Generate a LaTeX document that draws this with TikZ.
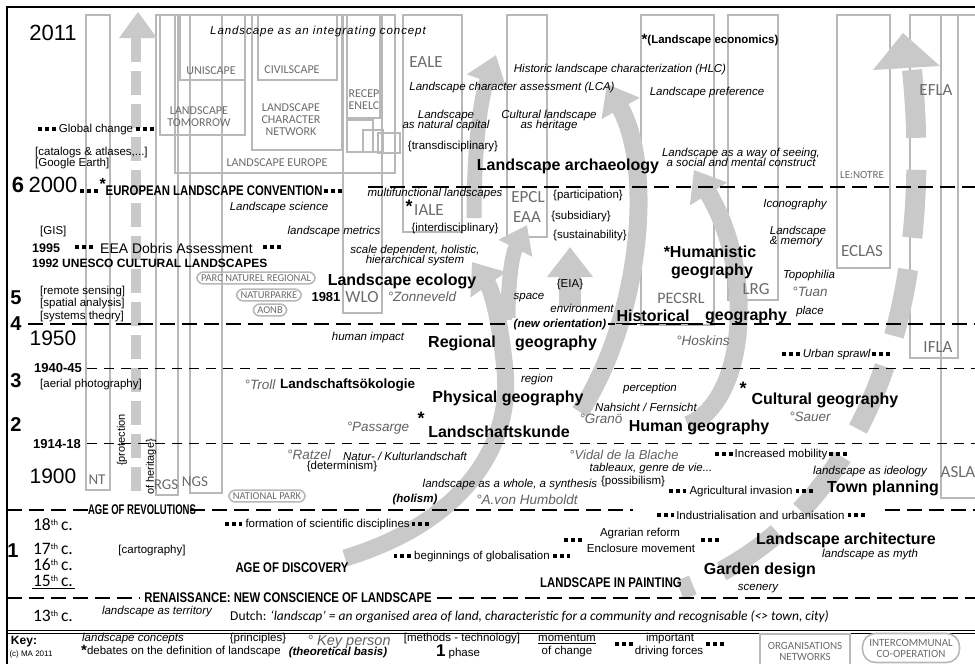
\documentclass[tikz,border=0pt]{standalone}
\usepackage{graphicx}
\usepackage{fontspec}
\setmainfont{Liberation Sans}
\newfontfamily\carl{Carlito}
\usetikzlibrary{arrows.meta}
\definecolor{bgray}{gray}{0.72}
\definecolor{agray}{gray}{0.79}
\definecolor{ogray}{gray}{0.42}
\definecolor{pgray}{gray}{0.38}
\newcommand{\fs}[1]{\fontsize{#1}{#1}\selectfont}
\newcommand{\sqs}{\rule[0.18em]{3.8pt}{3.8pt}\hspace{3pt}\rule[0.18em]{3.8pt}{3.8pt}\hspace{3pt}\rule[0.18em]{3.8pt}{3.8pt}}
\newcommand{\cnd}[1]{\scalebox{0.81}[1]{#1}}
\newcommand{\sth}{\raisebox{0.3em}{\fs{8.5}th}}
\tikzset{
 txt/.style={inner sep=0pt, font=\fs{11.5}},
 itx/.style={inner sep=0pt, font=\itshape\fs{11.5}},
 hdx/.style={inner sep=0pt, font=\bfseries\fs{16}},
 per/.style={inner sep=0pt, font=\itshape\fs{13.5}, text=pgray},
 org/.style={inner sep=0pt, font=\carl\fs{12}, text=ogray, align=center},
 orgb/.style={inner sep=0pt, font=\carl\fs{17}, text=ogray},
 yr/.style={inner sep=0pt, font=\fs{22}},
 phs/.style={inner sep=0pt, font=\bfseries\fs{20}},
 byr/.style={inner sep=0pt, font=\bfseries\fs{13}},
 cent/.style={inner sep=0pt, font=\carl\fs{17.5}, text height=11pt, text depth=0pt},
 capx/.style={inner sep=0pt, font=\bfseries\fs{14}},
 obox/.style={draw=bgray, line width=1.6pt},
 pill/.style={draw=bgray, line width=1.6pt, rounded corners=6.5pt, inner xsep=4pt, inner ysep=2.5pt, font=\carl\fs{10.5}, text=ogray},
 thk/.style={line width=2.6pt, dash pattern=on 15pt off 7pt},
 thn/.style={line width=0.9pt, dash pattern=on 10pt off 7pt},
 band/.style={draw=agray, line width=17pt, -{Triangle[width=42pt,length=28pt]}},
 starx/.style={inner sep=0pt, font=\bfseries\fs{18}, text height=8pt, text depth=0pt},
}
\begin{document}
\begin{tikzpicture}[x=1pt,y=-1pt]
\useasboundingbox (0,0) rectangle (975,664);
% ---------- organisation boxes ----------
\draw[obox] (86,15) rectangle (110,490);
\draw[obox] (156,15) rectangle (178,495);
\draw[obox] (190,15) rectangle (222,493);
\draw[obox] (160,15) rectangle (245,135);
\draw[obox] (180,15) rectangle (245,80);
\draw[obox] (175,15) rectangle (395,173);
\draw[obox] (258,15) rectangle (337,80);
\draw[obox] (252,15) rectangle (342,150);
\draw[obox] (347,15) rectangle (380,118);
\draw[obox] (347,120) rectangle (373,152);
\draw[obox] (363,130) rectangle (383,152);
\draw[obox] (378,133) rectangle (400,153);
\draw[obox] (343,15) rectangle (382,313);
\draw[obox] (403,15) rectangle (462,232);
\draw[obox] (507,15) rectangle (547,237);
\draw[obox] (641,15) rectangle (714,325);
\draw[obox] (728,15) rectangle (778,300);
\draw[obox] (837,15) rectangle (890,268);
\draw[obox] (910,15) rectangle (958,358);
\draw[obox] (941,15) rectangle (990,498);
% ---------- gray momentum arrows ----------
\draw[agray, line width=10pt, dash pattern=on 24pt off 9pt] (136,38) -- (136,497);
\fill[agray] (119,38) -- (138,12) -- (157,38) -- cycle;
\draw[agray, line width=20pt, dash pattern=on 68pt off 32pt] (912,70) .. controls (935,300) and (870,520) .. (680,590);
\fill[agray] (873,70) -- (903,33) -- (940,66) -- cycle;
\draw[band] (345,558) .. controls (470,520) and (512,440) .. (505,370) .. controls (500,320) and (492,290) .. (472,262);
\draw[band, line width=15pt, -{Triangle[width=40pt,length=28pt]}] (474,218) .. controls (474,150) and (480,100) .. (496,55);
\draw[band, line width=15pt, -{Triangle[width=36pt,length=26pt]}] (508,320) .. controls (508,280) and (512,255) .. (527,225);
\draw[band, line width=22pt, -{Triangle[width=44pt,length=30pt]}] (570,307) -- (570,247);
\draw[band, line width=18pt] (580,412) .. controls (640,320) and (655,170) .. (607,84);
\draw[band, line width=18pt] (688,425) .. controls (748,400) and (755,270) .. (694,170);
% ---------- frame and time lines ----------
\draw[line width=2.6pt] (7,664) -- (7,7) -- (975,7);
\draw[thk] (368,187) -- (975,187);
\draw[thk] (28,324) -- (975,324);
\draw[thn] (87,368) -- (975,368);
\draw[thn] (87,443) -- (975,443);
\draw[thk] (7,510) -- (95,510);
\draw[thk] (190,510) -- (633,510);
\draw[thk] (885,510) -- (975,510);
\draw[thk] (7,598) -- (140,598);
\draw[thk] (437,598) -- (975,598);
\draw[line width=0.9pt] (7,630.5) -- (975,630.5);
\draw[line width=0.9pt] (7,633.8) -- (975,633.8);
\draw[line width=0.8pt] (32,588) -- (75,588);
% ---------- left column ----------
\node[yr] (y2011) at (53,33) {2011};
\node[phs, font=\bfseries\fs{22}] (p6) at (18,185) {6};
\node[yr] (y2000) at (53,185) {2000};
\node[txt, anchor=west] (ecv) at (80,187) {\sqs\,\raisebox{0.45em}{\bfseries\fs{16}*}\cnd{\bfseries\fs{14}EUROPEAN LANDSCAPE CONVENTION}\,\sqs};
\node[txt] (glob) at (96,130) {\sqs\ Global change \sqs};
\node[txt, anchor=west] (cat) at (35,153) {[catalogs \& atlases,...]};
\node[txt, anchor=west] (goo) at (35,164) {[Google Earth]};
\node[txt, anchor=west] (gis) at (40,232) {[GIS]};
\node[byr, font=\bfseries\fs{12.5}, anchor=west] (y1995) at (32,248) {1995};
\node[txt] (sq95) at (84,248) {\sqs};
\node[inner sep=0pt, font=\fs{14}, anchor=west] (eea) at (100,248) {EEA Dobris Assessment};
\node[txt] (sq95b) at (272,248) {\sqs};
\node[inner sep=0pt, font=\bfseries\fs{12}, anchor=west] (unesco) at (32,263) {1992 UNESCO CULTURAL LANDSCAPES};
\node[phs] (p5) at (16,298) {5};
\node[txt, anchor=west] (rs) at (40,292) {[remote sensing]};
\node[txt, anchor=west] (sa) at (40,304) {[spatial analysis]};
\node[txt, anchor=west] (st) at (40,317) {[systems theory]};
\node[phs] (p4) at (16,324) {4};
\node[yr, font=\fs{21}] (y1950) at (53,338) {1950};
\node[byr] (y1940) at (58,368) {1940-45};
\node[phs] (p3) at (16,381) {3};
\node[txt, anchor=west] (aer) at (40,385) {[aerial photography]};
\node[phs] (p2) at (16,425) {2};
\node[byr] (y1914) at (57,444) {1914-18};
\node[yr, font=\fs{21}] (y1900) at (53,476) {1900};
\node[orgb, font=\carl\fs{15}] (nt) at (97,480) {NT};
\node[txt, rotate=90, font=\fs{11}] (prot) at (122,440) {\{protection};
\node[txt, rotate=90, font=\fs{11}] (herit) at (151,467) {of heritage\}};
\node[orgb, font=\carl\fs{15}] (rgs) at (166,485) {RGS};
\node[orgb, font=\carl\fs{15}] (ngs) at (195,482) {NGS};
\node[capx] (rev) at (142,510) {\scalebox{0.68}[1]{AGE OF REVOLUTIONS}};
\node[cent] (c18) at (53,525) {18\sth\,c.};
\node[phs] (p1) at (13,551) {1};
\node[cent] (c17) at (53,549) {17\sth\,c.};
\node[cent] (c16) at (53,565) {16\sth\,c.};
\node[cent] (c15) at (53,581) {15\sth\,c.};
\node[cent] (c13) at (53,616) {13\sth\,c.};
\node[txt] (carto) at (152,551) {[cartography]};
\node[itx] (terr) at (157,612) {landscape as territory};
% ---------- organisation labels ----------
\node[org] (unis) at (211,71) {UNISCAPE};
\node[org] (civ) at (292,70) {CIVILSCAPE};
\node[org] (ltom) at (199,117) {LANDSCAPE\\TOMORROW};
\node[org] (lcn) at (291,120) {LANDSCAPE\\CHARACTER\\NETWORK};
\node[org] (leur) at (277,163) {LANDSCAPE EUROPE};
\node[org] (recep) at (364,100) {RECEP\\ENELC};
\node[orgb] (eale) at (426,62) {EALE};
\node[orgb] (iale) at (429,210) {IALE};
\node[orgb] (epcl) at (528,197) {EPCL};
\node[orgb] (eaa) at (527,217) {EAA};
\node[orgb] (wlo) at (362,297) {WLO};
\node[orgb, font=\carl\fs{16}] (pecsrl) at (681,298) {PECSRL};
\node[orgb] (lrg) at (756,289) {LRG};
\node[orgb] (eclas) at (862,251) {ECLAS};
\node[org, font=\carl\fs{11}] (lenotre) at (862,175) {LE:NOTRE};
\node[orgb] (efla) at (936,90) {EFLA};
\node[orgb] (ifla) at (938,347) {IFLA};
\node[orgb] (asla) at (958,472) {ASLA};
\node[pill] (pnr) at (256,278) {PARC NATUREL REGIONAL};
\node[pill] (natp) at (269,295) {NATURPARKE};
\node[pill] (aonb) at (270,310) {AONB};
\node[pill] (npark) at (267,496) {NATIONAL PARK};
% ---------- upper field ----------
\node[itx] (integ) at (318,32) {\addfontfeature{LetterSpace=8}Landscape as an integrating concept};
\node[inner sep=0pt, font=\bfseries\fs{11.5}] (lecon) at (710,40) {\raisebox{-0.1em}{\fs{15}*}(Landscape economics)};
\node[itx] (hlc) at (620,70) {Historic landscape characterization (HLC)};
\node[itx] (lca) at (512,88) {Landscape character assessment (LCA)};
\node[itx] (lpref) at (707,93) {Landscape preference};
\node[itx] (natcap) at (446,121) {\begin{tabular}{@{}c@{}}Landscape\\[-1pt]as natural capital\end{tabular}};
\node[itx] (culher) at (549,121) {\begin{tabular}{@{}c@{}}Cultural landscape\\[-1pt]as heritage\end{tabular}};
\node[txt] (trans) at (453,147) {\{transdisciplinary\}};
\node[hdx] (larch) at (568,166) {Landscape archaeology};
\node[itx] (wayse) at (741,159) {\begin{tabular}{@{}c@{}}Landscape as a way of seeing,\\[-1pt]a social and mental construct\end{tabular}};
\node[itx] (lsci) at (279,208) {Landscape science};
\node[itx] (multi) at (435,194) {multifunctional landscapes};
\node[starx] (s1) at (409,208) {*};
\node[txt] (inter) at (455,229) {\{interdisciplinary\}};
\node[txt] (partic) at (588,196) {\{participation\}};
\node[txt] (subs) at (581,217) {\{subsidiary\}};
\node[txt] (sust) at (590,236) {\{sustainability\}};
\node[itx] (icon) at (795,205) {Iconography};
\node[itx] (memory) at (798,237) {\begin{tabular}{@{}l@{}}Landscape\\[-1pt]\& memory\end{tabular}};
\node[hdx] (human1) at (710,252) {*Humanistic};
\node[hdx] (human2) at (712,271) {geography};
\node[itx] (topo) at (809,276) {Topophilia};
\node[per] (tuan) at (810,292) {°Tuan};
\node[itx] (place) at (810,312) {place};
\node[itx] (metr) at (334,232) {landscape metrics};
\node[itx] (scale) at (415,256) {\begin{tabular}{@{}c@{}}scale dependent, holistic,\\[-1pt]hierarchical system\end{tabular}};
\node[hdx] (lecol) at (402,281) {Landscape ecology};
\node[byr] (y1981) at (326,297) {1981};
\node[per] (zonn) at (422,297) {°Zonneveld};
\node[itx] (space) at (529,298) {space};
\node[txt] (eia) at (570,285) {\{EIA\}};
\node[itx] (envir) at (582,308) {environment};
\node[inner sep=1.5pt, fill=white, font=\bfseries\itshape\fs{11.5}] (neworient) at (560,325) {(new orientation)};
\node[hdx] (histo) at (653,316) {Historical};
\node[hdx] (histg) at (746,316) {geography};
\draw[line width=1.2pt] (histo.south west) ++(0,1.5) -- ([yshift=-1.5pt]histo.south east);
% ---------- middle field ----------
\node[itx] (himp) at (368,338) {human impact};
\node[hdx] (regio) at (462,343) {Regional};
\node[hdx] (regg) at (556,343) {geography};
\node[per] (hosk) at (703,341) {°Hoskins};
\node[itx] (urban) at (836,355) {\sqs\ Urban sprawl\,\sqs};
\node[per] (troll) at (260,385) {°Troll};
\node[inner sep=0pt, font=\bfseries\fs{13.5}, anchor=west] (lok) at (280,385) {Landschaftsökologie};
\node[itx] (region) at (537,380) {region};
\node[itx] (percep) at (650,389) {perception};
\node[hdx] (phys) at (508,398) {Physical geography};
\node[itx] (nahs) at (646,407) {Nahsicht / Fernsicht};
\node[starx] (s2) at (743,390) {*};
\node[hdx] (cult) at (825,400) {Cultural geography};
\node[per] (sauer) at (810,417) {°Sauer};
\node[starx] (s3) at (421,420) {*};
\node[per] (pass) at (378,428) {°Passarge};
\node[hdx] (lsk) at (499,432) {Landschaftskunde};
\node[per] (grano) at (601,419) {°Granö};
\node[hdx] (humg) at (699,427) {Human geography};
% ---------- lower field ----------
\node[per] (ratz) at (309,455) {°Ratzel};
\node[itx] (natkul) at (405,456) {Natur- / Kulturlandschaft};
\node[txt] (determ) at (342,467) {\{determinism\}};
\node[per, font=\itshape\fs{13}] (vidal) at (624,455) {°Vidal de la Blache};
\node[itx] (tabl) at (651,468.5) {tableaux, genre de vie...};
\node[txt] (possib) at (633,481.5) {\{possibilism\}};
\node[txt] (mobil) at (781,455) {\sqs\,Increased mobility\,\sqs};
\node[itx] (ideol) at (870,472) {landscape as ideology};
\node[itx] (whole) at (510,485) {landscape as a whole, a synthesis};
\node[inner sep=0pt, font=\bfseries\itshape\fs{11.5}] (holism) at (415,500) {(holism)};
\node[per] (humb) at (527,500) {°A.von Humboldt};
\node[txt] (agri) at (741,492) {\sqs\ Agricultural invasion \sqs};
\node[hdx] (town) at (883,488) {Town planning};
\node[txt] (indus) at (761,515) {\sqs\,Industrialisation and urbanisation \sqs};
\node[txt] (form) at (327,525) {\sqs\ formation of scientific disciplines\,\sqs};
\node[txt] (agrar) at (640,534) {Agrarian reform};
\node[txt] (encl) at (641,548) {Enclosure movement};
\node[txt] (sqa) at (573,541) {\sqs};
\node[txt] (sqb) at (710,541) {\sqs};
\node[hdx] (larchi) at (846,540) {Landscape architecture};
\node[itx] (myth) at (870,555) {landscape as myth};
\node[txt] (glob2) at (482,557) {\sqs\ beginnings of globalisation \sqs};
\node[capx] (disc) at (292,568) {\cnd{AGE OF DISCOVERY}};
\node[hdx] (garden) at (760,570) {Garden design};
\node[capx] (paint) at (611,583) {\cnd{LANDSCAPE IN PAINTING}};
\node[itx] (scen) at (758,589) {scenery};
\node[capx] (renai) at (288,598) {\cnd{RENAISSANCE: NEW CONSCIENCE OF LANDSCAPE}};
\node[inner sep=0pt, anchor=west, font=\carl\fs{13.5}] (dutch) at (230,617) {Dutch: \itshape ‘landscap’ = an organised area of land, characteristic for a community and recognisable (<> town, city)};
% ---------- key ----------
\node[inner sep=0pt, font=\bfseries\fs{12}] (key) at (24,642) {Key:};
\node[inner sep=0pt, font=\fs{8}] (copy) at (31,654) {(c) MA 2011};
\node[itx] (k1) at (133,639) {landscape concepts};
\node[txt] (k2) at (181,651) {\raisebox{-0.15em}{\bfseries\fs{15}*}debates on the definition of landscape};
\node[txt] (k3) at (258,639) {\{principles\}};
\node[per, font=\itshape\fs{14.5}] (k4) at (349,642) {° Key person};
\node[inner sep=0pt, font=\bfseries\itshape\fs{11.5}] (k5) at (338,653) {(theoretical basis)};
\node[txt] (k6) at (462,639) {[methods - technology]};
\node[txt] (k7) at (458,652) {{\bfseries\fs{17}1} phase};
\node[txt] (k8) at (567,639) {\underline{momentum}};
\node[txt] (k9) at (567,652) {of change};
\node[txt] (k10) at (624,645) {\sqs};
\node[txt] (k11) at (670,639) {important};
\node[txt] (k12) at (669,652) {driving forces};
\node[txt] (k13) at (715,645) {\sqs};
\node[org, font=\carl\fs{11}, draw=bgray, line width=1.6pt, minimum width=90pt, minimum height=34pt] (k14) at (805,651) {ORGANISATIONS\\NETWORKS};
\node[org, font=\carl\fs{11}, draw=bgray, line width=1.6pt, rounded corners=13pt, minimum width=97pt, minimum height=29pt] (k15) at (911,648) {INTERCOMMUNAL\\CO-OPERATION};
\end{tikzpicture}
\end{document}
